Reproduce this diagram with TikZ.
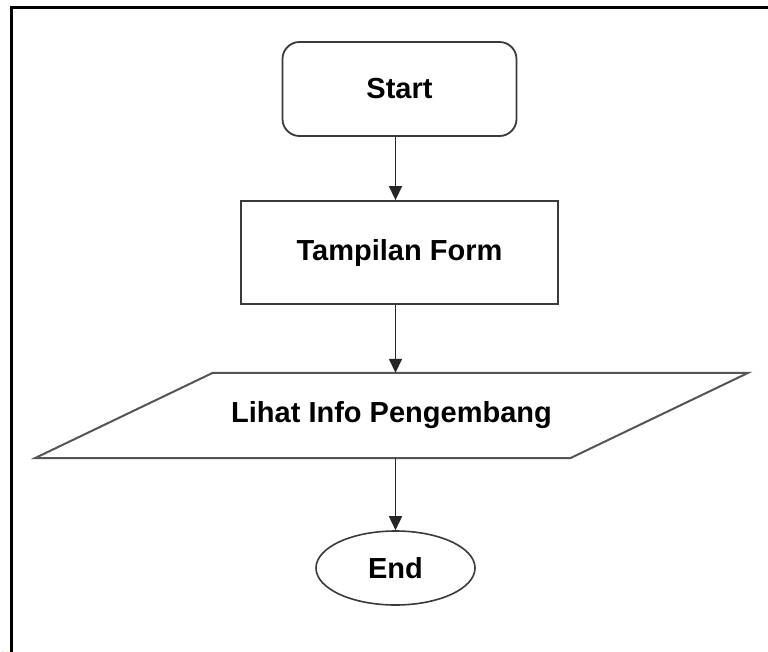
\documentclass[tikz,border=0pt]{standalone}
\usepackage{fontspec}
\setmainfont{Liberation Sans}
\usetikzlibrary{shapes.geometric,arrows.meta}

\definecolor{edge}{HTML}{3A3A3A}
\definecolor{slant}{HTML}{555555}

\tikzset{
  label font/.style={font=\fontsize{29}{34}\selectfont\bfseries},
  terminal/.style={draw=edge, line width=1.8pt, rounded corners=17pt,
    minimum width=234pt, minimum height=94pt, inner sep=0pt, label font},
  process/.style={draw=edge, line width=1.8pt,
    minimum width=317pt, minimum height=103pt, inner sep=0pt, label font},
  iobox/.style={minimum width=535pt, minimum height=85pt, inner sep=0pt, label font},
  stopper/.style={draw=edge, line width=1.6pt, ellipse,
    minimum width=159pt, minimum height=74pt, inner sep=0pt, label font},
  flow/.style={draw=black!85, line width=1.5pt, -{Triangle[length=14pt,width=13pt]}},
}

\begin{document}
\begin{tikzpicture}[x=1pt, y=-1pt]
  \useasboundingbox (0,0) rectangle (768,651);
  \clip (0,0) rectangle (768,651);
  \fill[white] (0,0) rectangle (768,651);

  % faint mark in the lower left corner
  \draw[line width=6pt, yellow!30] (9,651) arc[start angle=180, end angle=150, radius=45];
  \draw[line width=1.2pt, black!15] (3,651) arc[start angle=180, end angle=140, radius=48];

  % outer frame
  \draw[line width=3pt, black] (11,660) -- (11,7.5) -- (780,7.5);

  % flow chart
  \node[terminal] (start) at (399.5,89)    {Start};
  \node[process]  (form)  at (399.5,252.5) {Tampilan Form};
  \node[iobox]    (info)  at (391.5,415.5) {Lihat Info Pengembang};
  \node[stopper]  (end)   at (395.5,568)   {End};

  % slanted input/output shape around the info node
  \draw[slant, line width=2pt, line join=miter]
    ([xshift=89pt]info.north west) -- ([xshift=89pt]info.north east)
    -- ([xshift=-89pt]info.south east) -- ([xshift=-89pt]info.south west) -- cycle;

  \draw[flow] (start.south -| end) -- (form.north -| end);
  \draw[flow] (form.south -| end)  -- (info.north -| end);
  \draw[flow] (info.south -| end)  -- (end.north);
\end{tikzpicture}
\end{document}
